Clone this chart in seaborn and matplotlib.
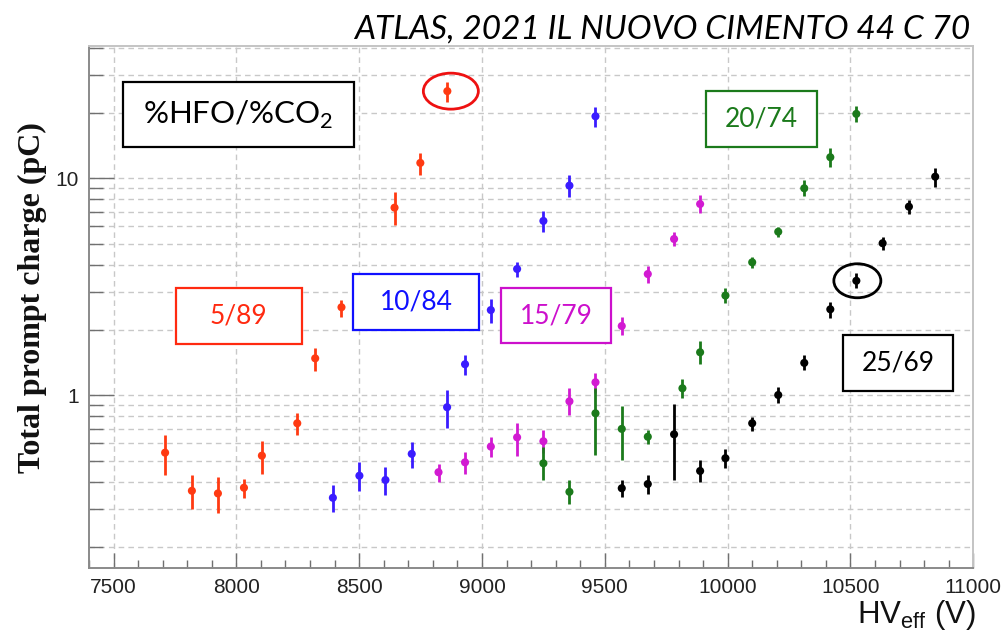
import numpy as np
import pandas as pd
import matplotlib
matplotlib.use("Agg")
import matplotlib.pyplot as plt
import matplotlib.ticker as mticker
import matplotlib.transforms as mtransforms
from matplotlib.patches import Rectangle, Ellipse
import seaborn as sns

# ---- data: total prompt charge (pC) vs effective HV (V) for each HFO/CO2 mixture ----
mixtures = ["5/89", "10/84", "15/79", "20/74", "25/69"]

hv_5 = [7710, 7819, 7925, 8031, 8104, 8248, 8321, 8428, 8644, 8749, 8859]
q_5 = [0.544, 0.363, 0.353, 0.375, 0.527, 0.743, 1.48, 2.545, 7.32, 11.77, 25.2]
q_5_lo = [0.429, 0.299, 0.288, 0.337, 0.434, 0.653, 1.298, 2.30, 6.09, 10.36, 22.5]
q_5_hi = [0.657, 0.429, 0.419, 0.411, 0.618, 0.826, 1.646, 2.75, 8.67, 13.1, 27.8]

hv_10 = [8393, 8501, 8607, 8714, 8858, 8931, 9036, 9143, 9250, 9356, 9462]
q_10 = [0.337, 0.426, 0.407, 0.537, 0.881, 1.39, 2.47, 3.82, 6.36, 9.25, 19.3]
q_10_lo = [0.291, 0.364, 0.348, 0.464, 0.709, 1.24, 2.16, 3.52, 5.67, 8.23, 17.3]
q_10_hi = [0.387, 0.491, 0.469, 0.611, 1.058, 1.533, 2.77, 4.13, 7.07, 10.35, 21.4]

hv_15 = [8823, 8931, 9036, 9143, 9250, 9356, 9462, 9569, 9675, 9782, 9888]
q_15 = [0.442, 0.491, 0.580, 0.640, 0.614, 0.938, 1.148, 2.085, 3.62, 5.25, 7.61]
q_15_lo = [0.40, 0.434, 0.518, 0.527, 0.541, 0.812, 1.02, 1.895, 3.28, 4.87, 6.89]
q_15_hi = [0.48, 0.55, 0.645, 0.748, 0.692, 1.077, 1.27, 2.30, 3.96, 5.68, 8.35]

hv_20 = [9250, 9356, 9462, 9569, 9675, 9816, 9888, 9991, 10100, 10206, 10312, 10418, 10524]
q_20 = [0.486, 0.359, 0.826, 0.700, 0.644, 1.077, 1.578, 2.88, 4.10, 5.67, 8.99, 12.5, 19.8]
q_20_lo = [0.407, 0.316, 0.531, 0.503, 0.596, 0.969, 1.40, 2.65, 3.84, 5.38, 8.25, 11.3, 18.2]
q_20_hi = [0.579, 0.407, 1.077, 0.893, 0.693, 1.19, 1.77, 3.11, 4.35, 5.98, 9.8, 13.8, 21.5]

hv_25 = [9569, 9675, 9782, 9888, 9991, 10100, 10206, 10312, 10418, 10524, 10631, 10738, 10845]
q_25 = [0.373, 0.390, 0.661, 0.448, 0.513, 0.743, 1.003, 1.41, 2.49, 3.37, 5.02, 7.40, 10.17]
q_25_lo = [0.339, 0.350, 0.407, 0.398, 0.461, 0.687, 0.919, 1.31, 2.26, 3.11, 4.67, 6.84, 9.15]
q_25_hi = [0.407, 0.428, 0.909, 0.504, 0.566, 0.79, 1.095, 1.53, 2.70, 3.65, 5.34, 7.94, 11.1]

x_ticks = [7500, 8000, 8500, 9000, 9500, 10000, 10500, 11000]
y_tick_labels = ["1", "10"]

title_text = "ATLAS, 2021 IL NUOVO CIMENTO 44 C 70"
legend_title = r"%HFO/%CO$_\mathregular{2}$"

# ---- styling ----
point_colors = {"5/89": "#ff3a12", "10/84": "#3a1cff", "15/79": "#d21ad2",
                "20/74": "#1b7a1b", "25/69": "#000000"}
box_colors = {"5/89": "#ff2a10", "10/84": "#1010ff", "15/79": "#cc10cc",
              "20/74": "#1b7a1b", "25/69": "#000000"}

sns.set_theme(style="white")
plt.rcParams["font.family"] = ["Liberation Sans", "DejaVu Sans"]
plt.rcParams["mathtext.fontset"] = "custom"
plt.rcParams["mathtext.rm"] = "Liberation Sans"

series = {
    "5/89": (hv_5, q_5, q_5_lo, q_5_hi),
    "10/84": (hv_10, q_10, q_10_lo, q_10_hi),
    "15/79": (hv_15, q_15, q_15_lo, q_15_hi),
    "20/74": (hv_20, q_20, q_20_lo, q_20_hi),
    "25/69": (hv_25, q_25, q_25_lo, q_25_hi),
}
frames = []
for name, (hv, q, lo, hi) in series.items():
    frames.append(pd.DataFrame({"hv": hv, "q": q, "lo": lo, "hi": hi, "mix": name}))
df = pd.concat(frames, ignore_index=True)

fig = plt.figure(figsize=(10.04, 6.42), dpi=100)
ax = fig.add_axes([0.0886, 0.1148, 0.8808, 0.8136])

ax.set_yscale("log")
ax.set_xlim(7400, 11000)
ax.set_ylim(0.1595, 40.7)

# grid: dashed light grey, y major+minor, x major only
grid_kw = dict(color="#c8c8c8", linestyle=(0, (4, 3)), linewidth=1.0)
ax.grid(which="major", axis="both", **grid_kw)
ax.grid(which="minor", axis="y", **grid_kw)
ax.set_axisbelow(True)

# vertical error bars
for name in mixtures:
    sub = df[df["mix"] == name]
    ax.vlines(sub["hv"], sub["lo"], sub["hi"], color=point_colors[name],
              linewidth=2.0, zorder=3)

sns.scatterplot(data=df, x="hv", y="q", hue="mix", hue_order=mixtures,
                palette=point_colors, s=34, linewidth=0, legend=False,
                ax=ax, zorder=4)

# axes, ticks
ax.xaxis.set_major_locator(mticker.FixedLocator(x_ticks))
ax.xaxis.set_minor_locator(mticker.MultipleLocator(100))
ax.xaxis.set_major_formatter(mticker.FuncFormatter(lambda v, p: f"{v:.0f}"))
ax.yaxis.set_major_locator(mticker.FixedLocator([float(t) for t in y_tick_labels]))
ax.yaxis.set_major_formatter(mticker.FixedFormatter(y_tick_labels))
ax.yaxis.set_minor_locator(mticker.LogLocator(base=10, subs=np.arange(2, 10)))
ax.yaxis.set_minor_formatter(mticker.NullFormatter())

ax.tick_params(axis="x", which="major", direction="in", length=11, width=1.0,
               color="#707070", labelsize=15, pad=7, bottom=True, top=False)
ax.tick_params(axis="x", which="minor", direction="in", length=5.5, width=1.0,
               color="#707070", bottom=True, top=False)
ax.tick_params(axis="y", which="major", direction="in", length=18, width=1.0,
               color="#707070", labelsize=15, pad=7, left=True, right=False)
ax.tick_params(axis="y", which="minor", direction="in", length=10, width=1.0,
               color="#707070", left=True, right=False)
for lab in ax.get_xticklabels() + ax.get_yticklabels():
    lab.set_color("#222222")

for side in ["left", "bottom"]:
    ax.spines[side].set_color("#8a8a8a")
    ax.spines[side].set_linewidth(1.4)
for side in ["top", "right"]:
    ax.spines[side].set_color("#c4c4c4")
    ax.spines[side].set_linewidth(1.4)

ax.set_ylabel("Total prompt charge (pC)", fontfamily=["Liberation Serif", "DejaVu Serif"],
              fontweight="bold", fontsize=23, color="#111111")
ax.yaxis.set_label_coords(-0.0470, 0.5175)
ax.set_xlabel(r"HV$_{\mathregular{eff}}$ (V)", fontsize=22.5, loc="right", color="#111111")
ax.xaxis.set_label_coords(1.003, -0.056)

# header
fig.text(0.966, 0.954, title_text, ha="right", va="center", fontsize=24,
         fontstyle="italic", fontfamily=["Lato", "DejaVu Sans"], color="black")


def label_box(x0, x1, y0, y1, text, color, size):
    ax.add_patch(Rectangle((x0, y0), x1 - x0, y1 - y0, transform=ax.transAxes,
                           facecolor="white", edgecolor=color, linewidth=1.6, zorder=5))
    ax.text((x0 + x1) / 2, (y0 + y1) / 2, text, transform=ax.transAxes, ha="center",
            va="center", fontsize=size, color=color, zorder=6,
            fontfamily=["Lato", "DejaVu Sans"])


label_box(0.0384, 0.2997, 0.8066, 0.9311, legend_title, "black", 22.5)
label_box(0.0980, 0.2405, 0.4289, 0.5361, "5/89", box_colors["5/89"], 19)
label_box(0.2989, 0.4410, 0.4562, 0.5629, "10/84", box_colors["10/84"], 19)
label_box(0.4656, 0.5906, 0.4308, 0.5367, "15/79", box_colors["15/79"], 19)
label_box(0.6974, 0.8229, 0.8072, 0.9144, "20/74", box_colors["20/74"], 19)
label_box(0.8523, 0.9774, 0.3400, 0.4467, "25/69", box_colors["25/69"], 19)

# highlight rings around selected points (sizes in inches)
def ring(x, y, w, h, color, dx=0.0):
    trans = fig.dpi_scale_trans + mtransforms.ScaledTranslation(x, y, ax.transData)
    ax.add_patch(Ellipse((dx, 0), w, h, transform=trans, facecolor="none",
                         edgecolor=color, linewidth=2.0, zorder=6, clip_on=False))


ring(hv_5[-1], q_5[-1], 0.55, 0.36, "#ee1111", dx=0.035)
ring(hv_25[9], q_25[9], 0.47, 0.34, "black", dx=0.01)

fig.savefig("out.png", dpi=100)
